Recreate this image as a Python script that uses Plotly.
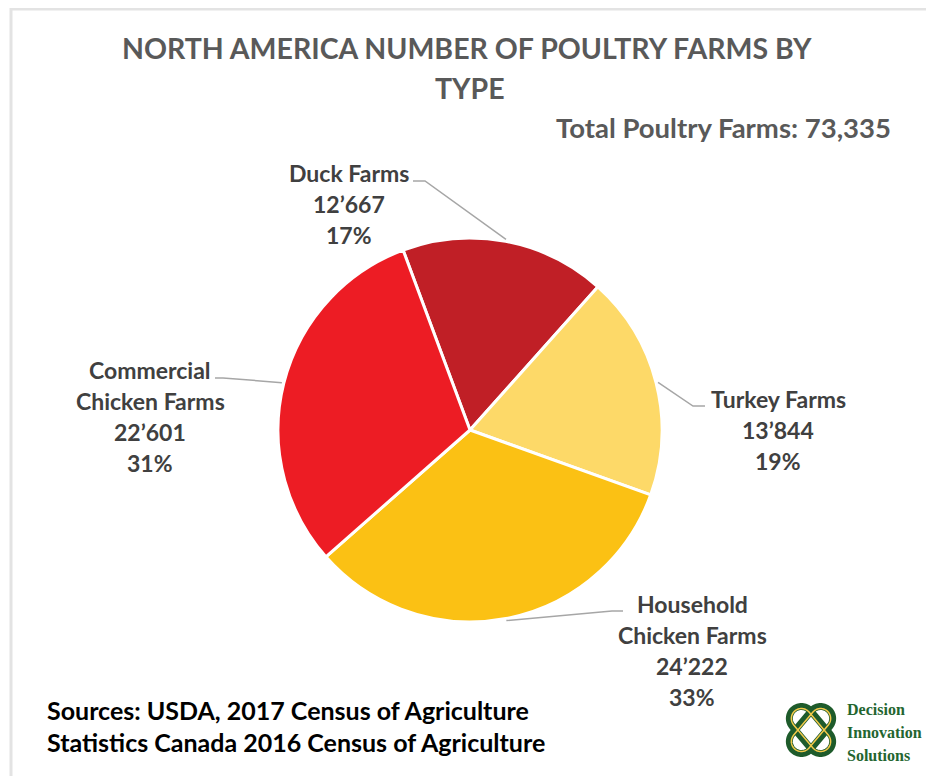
import numpy as np
import plotly.graph_objects as go

# ---------------- data ----------------
categories = ["Duck Farms", "Turkey Farms", "Household\nChicken Farms", "Commercial\nChicken Farms"]
values = [12667, 13844, 24222, 22601]
colors = ["#C01F26", "#FDD968", "#FBC114", "#ED1C24"]
total_label = 73335
title_lines = ["NORTH AMERICA NUMBER OF POULTRY FARMS BY", "TYPE"]
source_lines = ["Sources: USDA, 2017 Census of Agriculture",
                "Statistics Canada 2016 Census of Agriculture"]
logo_lines = ["Decision", "Innovation", "Solutions"]

# ---------------- layout helpers ----------------
W, H = 934, 776
OFF = 8  # page body margin
def px(x): return (x - OFF) / W
def py(y): return 1 - (y - OFF) / H

FONT = "Lato"
cx, cy, R = 470, 430, 192
rotation = -20.4

fig = go.Figure(go.Pie(
    labels=[c.replace("\n", " ") for c in categories],
    values=values,
    marker=dict(colors=colors, line=dict(color="white", width=3)),
    sort=False, direction="clockwise", rotation=rotation,
    textinfo="none", hoverinfo="label+value+percent", showlegend=False,
    domain=dict(x=[px(cx - R), px(cx + R)], y=[py(cy + R), py(cy - R)]),
))

annotations = []
shapes = []

def text(x, y, s, size, color, anchor="center", family=FONT, weight="bold"):
    annotations.append(dict(x=px(x), y=py(y), xref="paper", yref="paper", text=s,
                            showarrow=False, xanchor=anchor, yanchor="middle",
                            font=dict(family=family, size=size, color=color, weight=weight)))

# title
text(467, 48, title_lines[0], 28.5, "#595959")
text(470, 88, title_lines[1], 28.5, "#595959")
text(893, 127, f"Total Poultry Farms: {total_label:,}", 27.5, "#595959", anchor="right")

# slice labels + leader lines
total = sum(values)
label_pos = [(349, 173), (778, 399), (692, 604), (150, 370)]
elbows = [[(425, 181), (413, 181)], [(693, 406), (705, 406)],
          [(612, 611), (623, 611)], [(223, 378), (215, 378)]]
start = rotation
for i, v in enumerate(values):
    frac = v / total
    mid = np.deg2rad(start + frac * 360 / 2)
    start += frac * 360
    ex, ey = cx + (R + 2) * np.sin(mid), cy - (R + 2) * np.cos(mid)
    pts = [(ex, ey)] + elbows[i]
    path = "M " + " L ".join(f"{px(a):.5f},{py(b):.5f}" for a, b in pts)
    shapes.append(dict(type="path", path=path, xref="paper", yref="paper",
                       line=dict(color="#A6A6A6", width=1.5)))
    lines = categories[i].split("\n") + [f"{v:,}".replace(",", "\u2019"), f"{round(frac * 100)}%"]
    lx, ly = label_pos[i]
    for j, s in enumerate(lines):
        text(lx, ly + 31 * j, s, 23, "#404040")

# sources
for j, s in enumerate(source_lines):
    text(45, 710 + 32 * j, s, 25, "#000000", anchor="left")

# logo text
for j, s in enumerate(logo_lines):
    text(845, 709 + 23 * j, s, 16, "#23652F", anchor="left", family="Liberation Serif")

# logo knot: two crossing stadium loops
def stadium(c, ang, L, r, n=40):
    u = np.array([np.cos(ang), np.sin(ang)])
    nrm = np.array([-u[1], u[0]])
    pts = []
    for k in range(n + 1):
        t = -np.pi / 2 + np.pi * k / n
        pts.append(c + L * u + r * (np.cos(t) * u + np.sin(t) * nrm))
    for k in range(n + 1):
        t = np.pi / 2 + np.pi * k / n
        pts.append(c - L * u + r * (np.cos(t) * u + np.sin(t) * nrm))
    return "M " + " L ".join(f"{px(p[0]):.5f},{py(p[1]):.5f}" for p in pts) + " Z"

lc = np.array([811.0, 730.0])
for ang in [np.deg2rad(50), np.deg2rad(130)]:
    shapes.append(dict(type="path", path=stadium(lc, ang, 15, 12), xref="paper", yref="paper",
                       line=dict(color="#1E5B2B", width=7)))
for ang in [np.deg2rad(50), np.deg2rad(130)]:
    shapes.append(dict(type="path", path=stadium(lc, ang, 15, 10), xref="paper", yref="paper",
                       line=dict(color="#F3C94A", width=1.5)))

# frame
shapes.append(dict(type="rect", xref="paper", yref="paper", x0=px(11), x1=px(930),
                   y0=-0.05, y1=py(9), line=dict(color="#E3E3E3", width=3)))

fig.update_layout(width=W, height=H, margin=dict(l=0, r=0, t=0, b=0),
                  paper_bgcolor="white", plot_bgcolor="white",
                  annotations=annotations, shapes=shapes)
fig.write_html("out.html")
